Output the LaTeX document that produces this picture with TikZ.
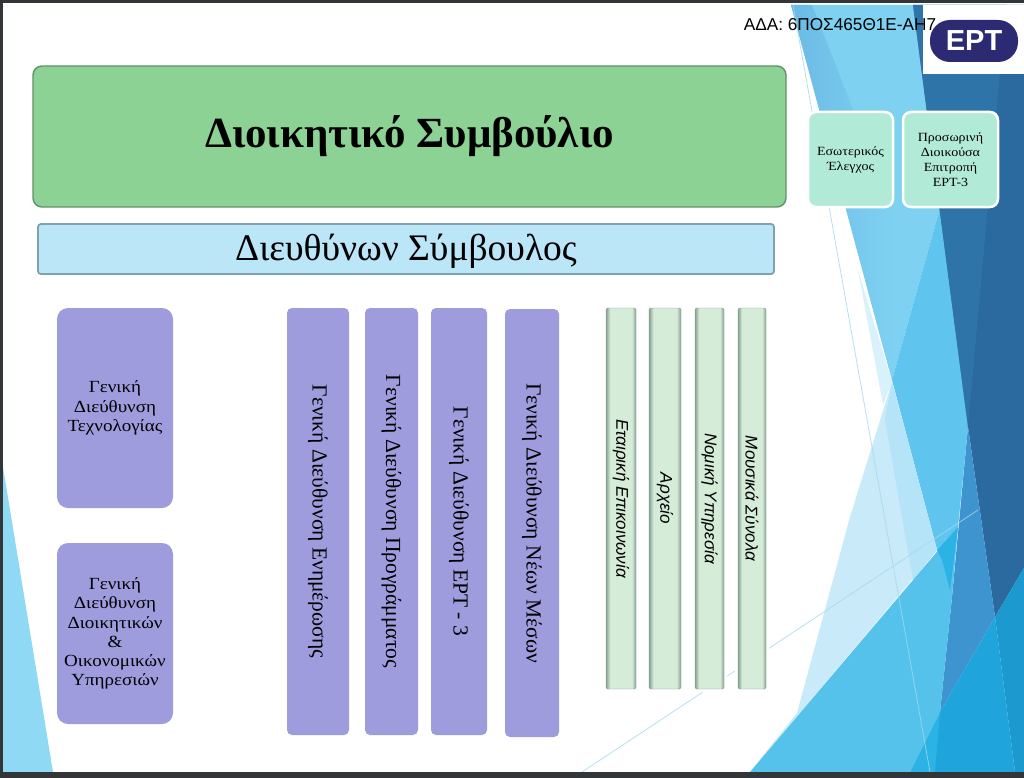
\documentclass[tikz,border=0pt]{standalone}
\usepackage{fontspec}
\setmainfont{Liberation Serif}
\setsansfont{Liberation Sans}
\newfontfamily\widefont[FakeStretch=1.12]{Liberation Serif}
\definecolor{boardgreen}{HTML}{8CD295}
\definecolor{ceoblue}{HTML}{BAE6F8}
\definecolor{auditgreen}{HTML}{B2EAD8}
\definecolor{dirpurple}{HTML}{9E9CDD}
\definecolor{barpale}{HTML}{D4ECD8}
\definecolor{baredge}{HTML}{88A090}
\definecolor{logoblue}{HTML}{2B2A72}
\definecolor{framegray}{HTML}{333638}
\definecolor{thinblue}{HTML}{A6D8EE}
\definecolor{skylight}{HTML}{7FD1F1}
\definecolor{skyedge}{HTML}{6BBAE6}
\pgfdeclarehorizontalshading{barshade}{100bp}{color(0bp)=(baredge); color(25bp)=(baredge); color(32bp)=(barpale); color(68bp)=(barpale); color(75bp)=(baredge); color(100bp)=(baredge)}
\begin{document}
\begin{tikzpicture}[x=1pt, y=-1pt,
    board/.style = {draw=#1!70!black, fill=#1, line width=1.4pt, rounded corners=9pt, inner sep=0pt, preaction={draw=white, line width=5pt}},
    audit/.style = {draw=white, fill=auditgreen, line width=2.5pt, rounded corners=8pt, inner sep=0pt, align=center, font=\widefont\fontsize{12.5}{15}\selectfont, minimum height=95pt},
    direction/.style = {fill=dirpurple, rounded corners=11pt, inner sep=0pt, align=center, minimum width=116pt, font=\widefont\fontsize{17}{19.3}\selectfont},
    column/.style = {fill=dirpurple, rounded corners=5pt, inner sep=0pt, rotate=-90, font=\fontsize{21.5}{23}\selectfont},
    bar/.style = {shading=barshade, draw=baredge, rounded corners=1.5pt, inner sep=0pt, rotate=-90, minimum width=381pt, font=\sffamily\itshape\fontsize{17}{20}\selectfont, preaction={draw=white, line width=6pt}}]
    \useasboundingbox (0,0) rectangle (1024,778);
    \fill[white] (0,0) rectangle (1024,778);
    % background on the right
    \fill[skylight] (791,5) -- (913,5) -- (940,208) -- (892,380) -- cycle;
    \shade[left color=skyedge, right color=skylight] (791,5) -- (812,5) -- (892,208) -- (892,380) -- cycle;
    \fill[color={rgb,255:red,96;green,197;blue,238}] (892,380) -- (940,208) -- (968,427) -- (958,527) -- (937,550) -- cycle;
    \fill[color={rgb,255:red,42;green,106;blue,158}] (913,5) -- (1024,5) -- (1024,568) -- (995,617) -- (968,427) -- cycle;
    \fill[color={rgb,255:red,46;green,116;blue,168}] (913,5) -- (1006,5) -- (968,427) -- cycle;
    \fill[color={rgb,255:red,61;green,148;blue,206}] (968,427) -- (995,617) -- (940,712) -- (952,597) -- cycle;
    % pale triangles
    \fill[color={rgb,255:red,200;green,234;blue,249}] (892,382) -- (937,550) -- (750,772) -- (797,713) -- (850,517) -- cycle;
    \fill[color={rgb,255:red,217;green,241;blue,251}] (858,270) -- (892,382) -- (883,405) -- cycle;
    \fill[color={rgb,255:red,181;green,227;blue,247}] (892,382) -- (937,550) -- (913,580) -- (885,420) -- cycle;
    % bottom triangles
    \fill[color={rgb,255:red,85;green,194;blue,236}] (958,527) -- (952,597) -- (940,712) -- (910,772) -- (750,772) -- cycle;
    \fill[color={rgb,255:red,43;green,179;blue,230}] (937,550) -- (958,527) -- (950,590) -- (942,560) -- cycle;
    \fill[color={rgb,255:red,43;green,179;blue,230}] (940,712) -- (910,772) -- (940,772) -- cycle;
    \fill[color={rgb,255:red,31;green,165;blue,220}] (940,712) -- (995,617) -- (1015,772) -- (935,772) -- cycle;
    \fill[color={rgb,255:red,28;green,154;blue,207}] (995,617) -- (1024,568) -- (1024,772) -- (1015,772) -- cycle;
    \fill[color={rgb,255:red,143;green,217;blue,244}] (3,467) -- (53,772) -- (3,772) -- cycle;
    \draw[thinblue, line width=0.8pt, opacity=0.8] (793,5) -- (930,772);
    \draw[thinblue, line width=0.8pt, opacity=0.8] (582,772) -- (978,510);
    % frame
    \fill[framegray] (0,772) rectangle (1024,778);
    \fill[framegray] (0,0) rectangle (3,778);
    \fill[framegray] (0,0) rectangle (1024,3);
    % logo
    \fill[white] (923,5) rectangle (1024,74);
    \node[fill=logoblue, rounded corners=20pt, minimum width=88pt, minimum height=42pt, inner sep=0pt, text=white, font=\sffamily\bfseries\fontsize{29}{30}\selectfont] (logo) at (974,41) {ΕΡΤ};
    \node[inner sep=0pt, font=\sffamily\fontsize{17.2}{19}\selectfont] (ada) at (840,25) {ΑΔΑ: 6ΠΟΣ465Θ1Ε-ΑΗ7};
    % boards
    \node[board=boardgreen, minimum width=753pt, minimum height=141pt, text height=30pt, text depth=7pt, font=\bfseries\fontsize{43}{46}\selectfont] (ds) at (409.5,136.5) {Διοικητικό Συμβούλιο};
    \node[board=ceoblue, rounded corners=3pt, minimum width=736pt, minimum height=50pt, text height=28pt, text depth=6pt, line width=1.8pt, font=\fontsize{37.5}{40}\selectfont] (ceo) at (406,249) {Διευθύνων Σύμβουλος};
    \node[audit, minimum width=85pt] (audit) at (850.5,159.5) {Εσωτερικός\\Έλεγχος};
    \node[audit, minimum width=95pt] (temp) at (950.5,159.5) {Προσωρινή\\Διοικούσα\\Επιτροπή\\ΕΡΤ-3};
    % general directorates
    \node[direction, minimum height=200pt] (tech) at (115,408) {Γενική\\Διεύθυνση\\Τεχνολογίας};
    \node[direction, minimum height=181pt] (admin) at (115,633.5) {Γενική\\Διεύθυνση\\Διοικητικών\\\&\\Οικονομικών\\Υπηρεσιών};
    \node[column, minimum width=427pt, minimum height=62pt] (news) at (318,521.5) {Γενική Διεύθυνση Ενημέρωσης};
    \node[column, minimum width=427pt, minimum height=53pt] (prog) at (391.5,521.5) {Γενική Διεύθυνση Προγράμματος};
    \node[column, minimum width=427pt, minimum height=56pt] (ert3) at (459,521.5) {Γενική Διεύθυνση ΕΡΤ - 3};
    \node[column, minimum width=428pt, minimum height=54pt] (media) at (532,523) {Γενική Διεύθυνση Νέων Μέσων};
    % thin bars
    \node[bar, minimum height=30pt] (comm) at (621,498.5) {Εταιρική Επικοινωνία};
    \node[bar, minimum height=32pt] (arch) at (665,498.5) {Αρχείο};
    \node[bar, minimum height=29pt] (legal) at (709.5,498.5) {Νομική Υπηρεσία};
    \node[bar, minimum height=28pt] (music) at (752,498.5) {Μουσικά Σύνολα};
\end{tikzpicture}
\end{document}
